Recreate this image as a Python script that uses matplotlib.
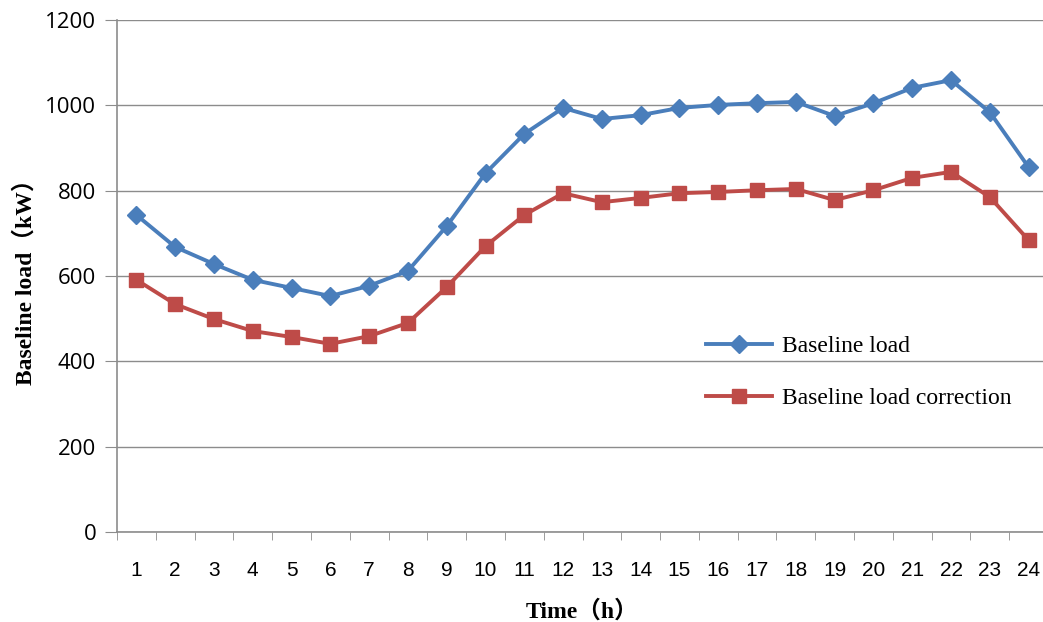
import matplotlib
matplotlib.use('Agg')
import matplotlib.pyplot as plt
from matplotlib.ticker import FixedLocator, NullFormatter

hours = list(range(1, 25))
baseline = [743, 668, 628, 591, 572, 553, 577, 612, 717, 841, 933, 994,
            968, 977, 994, 1001, 1005, 1008, 975, 1005, 1041, 1059, 984, 855]
corrected = [591, 534, 499, 471, 457, 441, 459, 490, 574, 670, 743, 794,
             773, 783, 794, 797, 801, 804, 778, 801, 830, 844, 785, 684]
y_ticks = [0, 200, 400, 600, 800, 1000, 1200]

serif = ['Liberation Serif', 'Noto Sans CJK SC']

fig = plt.figure(figsize=(10.43, 6.22), dpi=100)
ax = fig.add_axes([117 / 1043, 1 - 532 / 622, 931 / 1043, 512 / 622])

ax.plot(hours, baseline, color='#4a7ebb', lw=2.8, marker='D', ms=9,
        label='Baseline load', clip_on=False)
ax.plot(hours, corrected, color='#be4b48', lw=2.8, marker='s', ms=10,
        label='Baseline load correction', clip_on=False)

ax.set_xlim(0.5, 24.5)
ax.set_ylim(0, 1200)
ax.set_yticks(y_ticks)
ax.yaxis.grid(True, color='#8c8c8c', lw=1)
ax.set_axisbelow(True)

ax.set_xticks(hours)
ax.set_xticklabels([str(h) for h in hours], family='Liberation Sans', fontsize=15)
ax.xaxis.set_minor_locator(FixedLocator([h + 0.5 for h in range(0, 25)]))
ax.xaxis.set_minor_formatter(NullFormatter())
ax.tick_params(axis='x', which='major', length=0, pad=21)
ax.tick_params(axis='x', which='minor', length=6, color='#8c8c8c', direction='out')
ax.tick_params(axis='y', length=9, color='#8c8c8c', labelsize=16, pad=6)
for lab in ax.get_yticklabels():
    lab.set_family('Open Sans')

for s in ['top', 'right']:
    ax.spines[s].set_visible(False)
for s in ['left', 'bottom']:
    ax.spines[s].set_color('#8c8c8c')
    ax.spines[s].set_linewidth(1.2)

ax.set_xlabel('Time（h）', family=serif, fontweight='bold', fontsize=17, labelpad=14)
ax.set_ylabel('Baseline load（kW）', family=serif, fontweight='bold', fontsize=17,
              labelpad=6)

leg = ax.legend(loc='upper left', bbox_to_anchor=(0.61, 0.425), frameon=False,
                prop={'family': 'Liberation Serif', 'size': 17}, handlelength=2.8,
                handletextpad=0.4, labelspacing=1.3)

fig.savefig('out.png', dpi=100)
